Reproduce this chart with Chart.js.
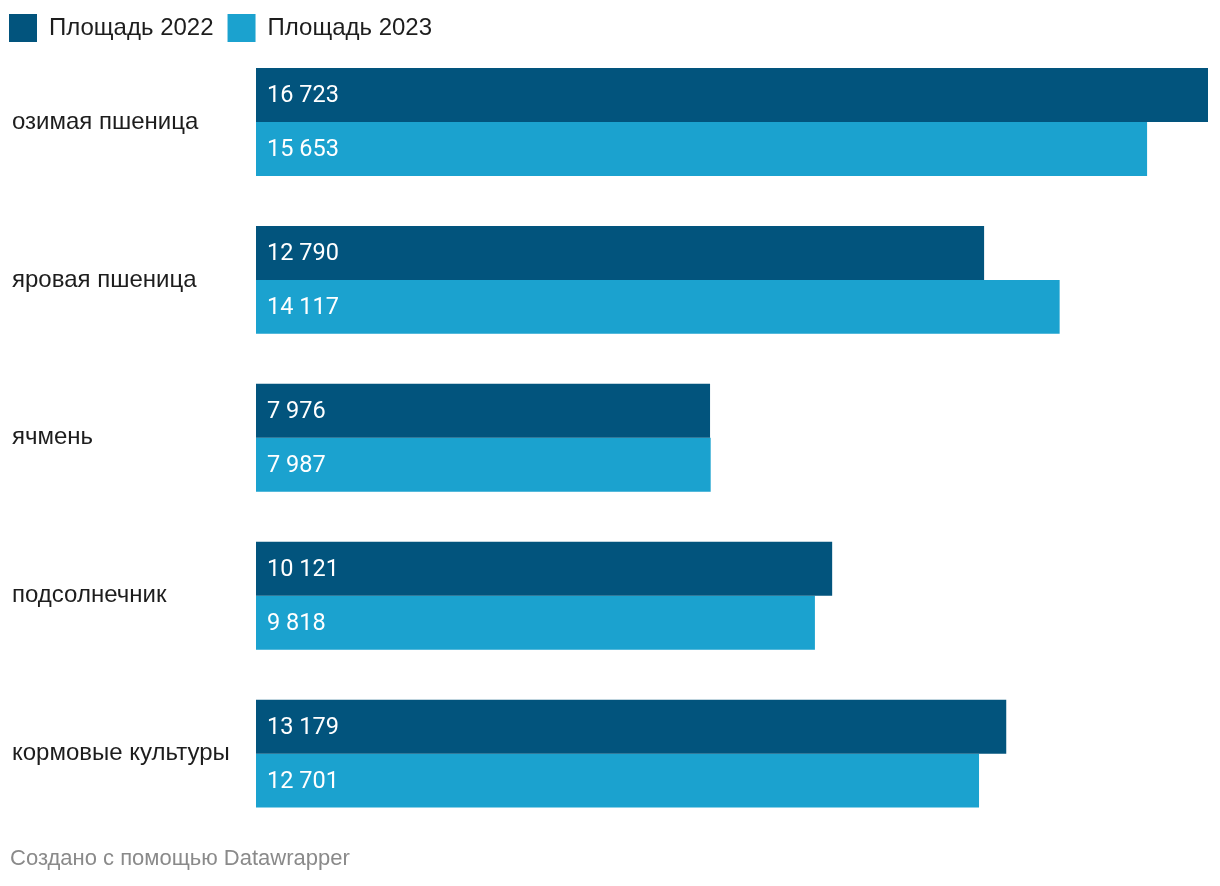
<!DOCTYPE html>
<html lang="ru">
<head>
<meta charset="utf-8">
<title>Площадь</title>
<script src="https://cdn.jsdelivr.net/npm/chart.js@4/dist/chart.umd.min.js"></script>
<style>
  html, body { margin: 0; padding: 0; background: #fff; }
  #wrap { position: relative; width: 1220px; height: 886px; }
</style>
</head>
<body>
<div id="wrap"><canvas id="c" width="1220" height="886"></canvas></div>
<script>
const categories = ['озимая пшеница', 'яровая пшеница', 'ячмень', 'подсолнечник', 'кормовые культуры'];
const seriesNames = ['Площадь 2022', 'Площадь 2023'];
const area2022 = [16723, 12790, 7976, 10121, 13179];
const area2023 = [15653, 14117, 7987, 9818, 12701];
const footerText = 'Создано с помощью Datawrapper';

const COLOR_2022 = '#02547d';
const COLOR_2023 = '#1ba2cf';
const SANS = '"Liberation Sans", Arial, Helvetica, sans-serif';
const ROBOTO = 'Roboto, "Liberation Sans", sans-serif';

function fmt(v) {
  return String(v).replace(/\B(?=(\d{3})+(?!\d))/g, ' ');
}

const valueLabels = {
  id: 'valueLabels',
  afterDatasetsDraw(chart) {
    const ctx = chart.ctx;
    ctx.save();
    ctx.font = '23.5px ' + ROBOTO;
    ctx.fillStyle = '#ffffff';
    ctx.textAlign = 'left';
    ctx.textBaseline = 'middle';
    chart.data.datasets.forEach((ds, di) => {
      const meta = chart.getDatasetMeta(di);
      meta.data.forEach((bar, i) => {
        ctx.fillText(fmt(ds.data[i]), bar.base + 11, bar.y + 1);
      });
    });
    ctx.restore();
  }
};

const dwLayout = {
  id: 'dwLayout',
  beforeLayout(chart) {
    const lg = chart.legend;
    if (lg && !lg._dwPatched) {
      const orig = lg.fit.bind(lg);
      lg.fit = function () { orig(); this.height = 43; };
      lg._dwPatched = true;
    }
  },
  afterLayout(chart) {
    if (chart.legend) { chart.legend.left -= 5; chart.legend.right -= 5; }
    if (chart.titleBlock) { chart.titleBlock.left = 10; }
    chart.scales.y.left = 12;
  }
};

new Chart(document.getElementById('c'), {
  type: 'bar',
  data: {
    labels: categories,
    datasets: [
      { label: seriesNames[0], data: area2022, backgroundColor: COLOR_2022, borderWidth: 0 },
      { label: seriesNames[1], data: area2023, backgroundColor: COLOR_2023, borderWidth: 0 }
    ]
  },
  options: {
    indexAxis: 'y',
    responsive: false,
    devicePixelRatio: 1,
    animation: false,
    layout: { padding: { left: 0, right: 12, top: 0, bottom: 0 } },
    datasets: { bar: { barPercentage: 1.0, categoryPercentage: 108 / 158 } },
    scales: {
      x: { display: false, min: 0, max: 16723 },
      y: {
        grid: { display: false },
        border: { display: false },
        ticks: { font: { family: SANS, size: 24 }, color: '#1d1d1d', crossAlign: 'far', padding: 0 },
        afterFit(s) { s.width = 256; }
      }
    },
    plugins: {
      legend: {
        position: 'top',
        align: 'start',
        labels: {
          boxWidth: 28, boxHeight: 28, padding: 14,
          font: { family: SANS, size: 24 }, color: '#1d1d1d'
        }
      },
      title: {
        display: true,
        position: 'bottom',
        align: 'start',
        text: footerText,
        color: '#8a8a8a',
        font: { family: SANS, size: 22, weight: 'normal', lineHeight: 1.2 },
        padding: { top: 13, bottom: 14 }
      },
      tooltip: { enabled: false }
    }
  },
  plugins: [valueLabels, dwLayout]
});
</script>
</body>
</html>
